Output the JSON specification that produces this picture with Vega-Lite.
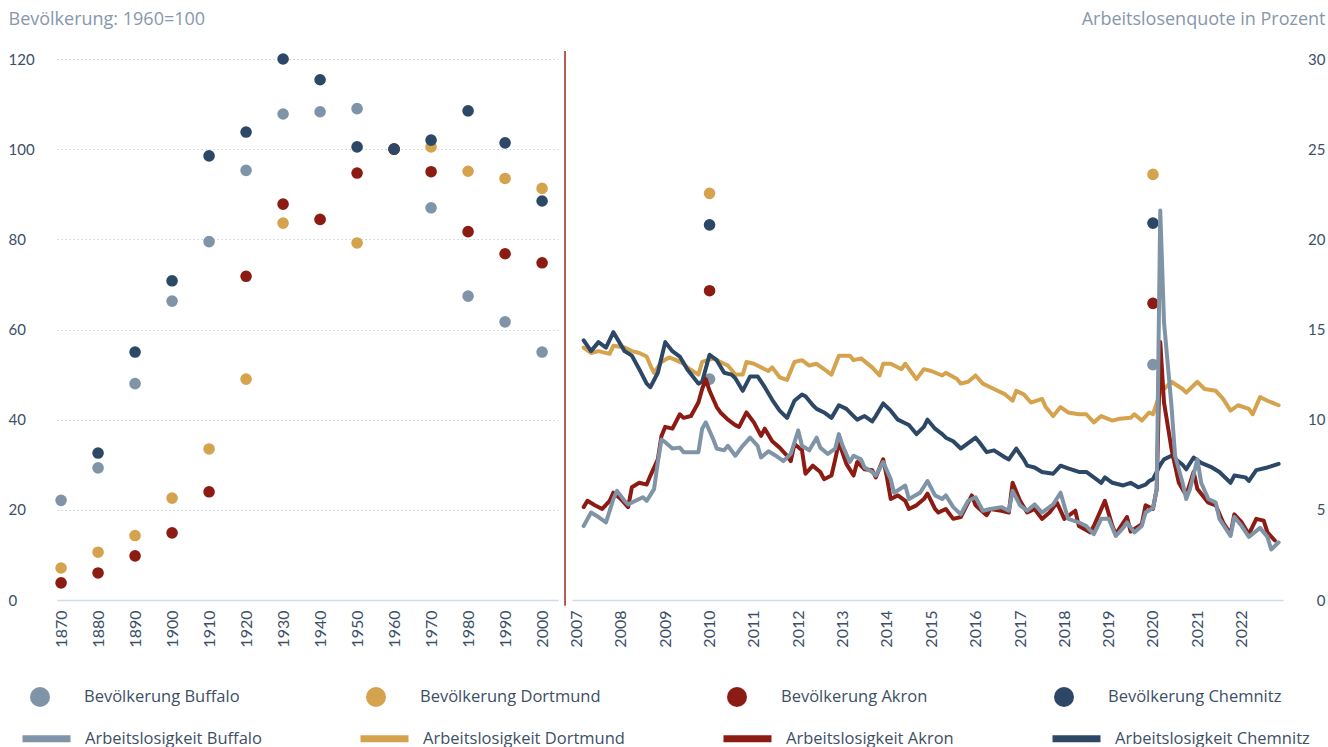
{
  "$schema": "https://vega.github.io/schema/vega-lite/v6.json",
  "background": "white",
  "padding": {"left": 8, "top": 10, "right": 3, "bottom": 0},
  "config": {
    "view": {"stroke": null},
    "font": "Lato",
    "axis": {"ticks": false, "domain": false, "labelFont": "Lato", "labelColor": "#3d4f66", "gridColor": "#c6d1df", "gridDash": [1.5, 2.5], "gridWidth": 1.2, "titleFont": "Open Sans", "titleFontWeight": "normal", "titleColor": "#8797ab", "titleFontSize": 18, "labelOverlap": false},
    "axisX": {"domain": true, "domainColor": "#d2dbe8", "domainWidth": 1.5, "grid": false, "labelAngle": -90, "labelFontSize": 16, "labelPadding": 10, "labelFlush": false, "labelOverlap": false},
    "axisY": {"labelFontSize": 15, "grid": true},
    "legend": {"labelFont": "Open Sans", "labelFontSize": 16.5, "labelColor": "#3d4f66", "labelLimit": 400}
  },
  "datasets": {
    "pop": [
      {"year": 1870, "series": "Bevölkerung Buffalo", "index": 22.1},
      {"year": 1880, "series": "Bevölkerung Buffalo", "index": 29.3},
      {"year": 1890, "series": "Bevölkerung Buffalo", "index": 48.0},
      {"year": 1900, "series": "Bevölkerung Buffalo", "index": 66.3},
      {"year": 1910, "series": "Bevölkerung Buffalo", "index": 79.5},
      {"year": 1920, "series": "Bevölkerung Buffalo", "index": 95.3},
      {"year": 1930, "series": "Bevölkerung Buffalo", "index": 107.8},
      {"year": 1940, "series": "Bevölkerung Buffalo", "index": 108.3},
      {"year": 1950, "series": "Bevölkerung Buffalo", "index": 109.0},
      {"year": 1960, "series": "Bevölkerung Buffalo", "index": 100},
      {"year": 1970, "series": "Bevölkerung Buffalo", "index": 87.0},
      {"year": 1980, "series": "Bevölkerung Buffalo", "index": 67.4},
      {"year": 1990, "series": "Bevölkerung Buffalo", "index": 61.7},
      {"year": 2000, "series": "Bevölkerung Buffalo", "index": 55.0},
      {"year": 1870, "series": "Bevölkerung Dortmund", "index": 7.1},
      {"year": 1880, "series": "Bevölkerung Dortmund", "index": 10.6},
      {"year": 1890, "series": "Bevölkerung Dortmund", "index": 14.3},
      {"year": 1900, "series": "Bevölkerung Dortmund", "index": 22.6},
      {"year": 1910, "series": "Bevölkerung Dortmund", "index": 33.5},
      {"year": 1920, "series": "Bevölkerung Dortmund", "index": 49.0},
      {"year": 1930, "series": "Bevölkerung Dortmund", "index": 83.6},
      {"year": 1940, "series": "Bevölkerung Dortmund", "index": 84.5},
      {"year": 1950, "series": "Bevölkerung Dortmund", "index": 79.2},
      {"year": 1960, "series": "Bevölkerung Dortmund", "index": 100},
      {"year": 1970, "series": "Bevölkerung Dortmund", "index": 100.5},
      {"year": 1980, "series": "Bevölkerung Dortmund", "index": 95.1},
      {"year": 1990, "series": "Bevölkerung Dortmund", "index": 93.5},
      {"year": 2000, "series": "Bevölkerung Dortmund", "index": 91.3},
      {"year": 1870, "series": "Bevölkerung Akron", "index": 3.8},
      {"year": 1880, "series": "Bevölkerung Akron", "index": 6.0},
      {"year": 1890, "series": "Bevölkerung Akron", "index": 9.8},
      {"year": 1900, "series": "Bevölkerung Akron", "index": 14.9},
      {"year": 1910, "series": "Bevölkerung Akron", "index": 24.0},
      {"year": 1920, "series": "Bevölkerung Akron", "index": 71.8},
      {"year": 1930, "series": "Bevölkerung Akron", "index": 87.8},
      {"year": 1940, "series": "Bevölkerung Akron", "index": 84.4},
      {"year": 1950, "series": "Bevölkerung Akron", "index": 94.7},
      {"year": 1960, "series": "Bevölkerung Akron", "index": 100},
      {"year": 1970, "series": "Bevölkerung Akron", "index": 95.0},
      {"year": 1980, "series": "Bevölkerung Akron", "index": 81.7},
      {"year": 1990, "series": "Bevölkerung Akron", "index": 76.8},
      {"year": 2000, "series": "Bevölkerung Akron", "index": 74.8},
      {"year": 1880, "series": "Bevölkerung Chemnitz", "index": 32.6},
      {"year": 1890, "series": "Bevölkerung Chemnitz", "index": 55.0},
      {"year": 1900, "series": "Bevölkerung Chemnitz", "index": 70.8},
      {"year": 1910, "series": "Bevölkerung Chemnitz", "index": 98.5},
      {"year": 1920, "series": "Bevölkerung Chemnitz", "index": 103.8},
      {"year": 1930, "series": "Bevölkerung Chemnitz", "index": 120.0},
      {"year": 1940, "series": "Bevölkerung Chemnitz", "index": 115.4},
      {"year": 1950, "series": "Bevölkerung Chemnitz", "index": 100.5},
      {"year": 1960, "series": "Bevölkerung Chemnitz", "index": 100},
      {"year": 1970, "series": "Bevölkerung Chemnitz", "index": 102.0},
      {"year": 1980, "series": "Bevölkerung Chemnitz", "index": 108.5},
      {"year": 1990, "series": "Bevölkerung Chemnitz", "index": 101.4},
      {"year": 2000, "series": "Bevölkerung Chemnitz", "index": 88.5}
    ],
    "popNew": [
      {"date": "2010-01", "series": "Bevölkerung Buffalo", "index": 49.0},
      {"date": "2020-01", "series": "Bevölkerung Buffalo", "index": 52.2},
      {"date": "2010-01", "series": "Bevölkerung Dortmund", "index": 90.2},
      {"date": "2020-01", "series": "Bevölkerung Dortmund", "index": 94.4},
      {"date": "2010-01", "series": "Bevölkerung Akron", "index": 68.6},
      {"date": "2020-01", "series": "Bevölkerung Akron", "index": 65.8},
      {"date": "2010-01", "series": "Bevölkerung Chemnitz", "index": 83.2},
      {"date": "2020-01", "series": "Bevölkerung Chemnitz", "index": 83.6}
    ],
    "ueDortmund": [
      {"date": "2007-03", "rate": 14.0}, {"date": "2007-05", "rate": 13.7}, {"date": "2007-07", "rate": 13.8}, {"date": "2007-10", "rate": 13.65}, {"date": "2007-11", "rate": 14.1},
      {"date": "2008-02", "rate": 14.0}, {"date": "2008-04", "rate": 13.8}, {"date": "2008-06", "rate": 13.7}, {"date": "2008-08", "rate": 13.5}, {"date": "2008-09", "rate": 13.0}, {"date": "2008-10", "rate": 12.6}, {"date": "2008-12", "rate": 13.2},
      {"date": "2009-02", "rate": 13.45}, {"date": "2009-04", "rate": 13.3}, {"date": "2009-06", "rate": 13.1}, {"date": "2009-07", "rate": 12.9}, {"date": "2009-10", "rate": 12.5}, {"date": "2009-11", "rate": 13.2},
      {"date": "2010-02", "rate": 13.4}, {"date": "2010-04", "rate": 13.2}, {"date": "2010-06", "rate": 13.0}, {"date": "2010-08", "rate": 12.5}, {"date": "2010-10", "rate": 12.5}, {"date": "2010-11", "rate": 13.2},
      {"date": "2011-01", "rate": 13.1}, {"date": "2011-04", "rate": 12.8}, {"date": "2011-05", "rate": 12.7}, {"date": "2011-06", "rate": 12.9}, {"date": "2011-08", "rate": 12.35}, {"date": "2011-10", "rate": 12.2}, {"date": "2011-12", "rate": 13.2},
      {"date": "2012-02", "rate": 13.3}, {"date": "2012-04", "rate": 13.0}, {"date": "2012-06", "rate": 13.1}, {"date": "2012-08", "rate": 12.8}, {"date": "2012-10", "rate": 12.5}, {"date": "2012-12", "rate": 13.55},
      {"date": "2013-03", "rate": 13.55}, {"date": "2013-04", "rate": 13.3}, {"date": "2013-06", "rate": 13.4}, {"date": "2013-09", "rate": 12.9}, {"date": "2013-11", "rate": 12.45}, {"date": "2013-12", "rate": 13.1},
      {"date": "2014-02", "rate": 13.1}, {"date": "2014-05", "rate": 12.8}, {"date": "2014-06", "rate": 13.1}, {"date": "2014-09", "rate": 12.25}, {"date": "2014-11", "rate": 12.8},
      {"date": "2015-01", "rate": 12.7}, {"date": "2015-04", "rate": 12.45}, {"date": "2015-05", "rate": 12.6}, {"date": "2015-08", "rate": 12.25}, {"date": "2015-09", "rate": 12.0}, {"date": "2015-11", "rate": 12.1},
      {"date": "2016-01", "rate": 12.45}, {"date": "2016-03", "rate": 12.0}, {"date": "2016-05", "rate": 11.8}, {"date": "2016-07", "rate": 11.6}, {"date": "2016-09", "rate": 11.4}, {"date": "2016-11", "rate": 11.05}, {"date": "2016-12", "rate": 11.6},
      {"date": "2017-02", "rate": 11.4}, {"date": "2017-04", "rate": 10.95}, {"date": "2017-07", "rate": 11.15}, {"date": "2017-08", "rate": 10.7}, {"date": "2017-10", "rate": 10.2}, {"date": "2017-12", "rate": 10.7},
      {"date": "2018-02", "rate": 10.4}, {"date": "2018-05", "rate": 10.3}, {"date": "2018-07", "rate": 10.3}, {"date": "2018-09", "rate": 9.85}, {"date": "2018-11", "rate": 10.2},
      {"date": "2019-02", "rate": 9.95}, {"date": "2019-04", "rate": 10.05}, {"date": "2019-07", "rate": 10.1}, {"date": "2019-08", "rate": 10.3}, {"date": "2019-10", "rate": 9.95}, {"date": "2019-12", "rate": 10.4},
      {"date": "2020-01", "rate": 10.3}, {"date": "2020-03", "rate": 11.5}, {"date": "2020-06", "rate": 12.1}, {"date": "2020-09", "rate": 11.7}, {"date": "2020-10", "rate": 11.5},
      {"date": "2021-01", "rate": 12.1}, {"date": "2021-03", "rate": 11.7}, {"date": "2021-06", "rate": 11.6}, {"date": "2021-08", "rate": 11.15}, {"date": "2021-10", "rate": 10.5}, {"date": "2021-12", "rate": 10.8},
      {"date": "2022-03", "rate": 10.6}, {"date": "2022-04", "rate": 10.3}, {"date": "2022-06", "rate": 11.25}, {"date": "2022-08", "rate": 11.05}, {"date": "2022-11", "rate": 10.8}
    ],
    "ueChemnitz": [
      {"date": "2007-03", "rate": 14.4}, {"date": "2007-05", "rate": 13.8}, {"date": "2007-07", "rate": 14.3}, {"date": "2007-09", "rate": 14.0}, {"date": "2007-11", "rate": 14.85},
      {"date": "2008-02", "rate": 13.8}, {"date": "2008-04", "rate": 13.55}, {"date": "2008-06", "rate": 12.8}, {"date": "2008-08", "rate": 12.0}, {"date": "2008-09", "rate": 11.8}, {"date": "2008-11", "rate": 12.6},
      {"date": "2009-01", "rate": 14.3}, {"date": "2009-03", "rate": 13.8}, {"date": "2009-05", "rate": 13.5}, {"date": "2009-07", "rate": 12.8}, {"date": "2009-10", "rate": 12.0}, {"date": "2009-11", "rate": 12.1},
      {"date": "2010-01", "rate": 13.6}, {"date": "2010-03", "rate": 13.3}, {"date": "2010-05", "rate": 12.6}, {"date": "2010-07", "rate": 12.5}, {"date": "2010-08", "rate": 12.3}, {"date": "2010-10", "rate": 11.6}, {"date": "2010-12", "rate": 12.4},
      {"date": "2011-02", "rate": 12.4}, {"date": "2011-04", "rate": 11.8}, {"date": "2011-06", "rate": 11.1}, {"date": "2011-08", "rate": 10.5}, {"date": "2011-10", "rate": 10.1}, {"date": "2011-12", "rate": 11.05},
      {"date": "2012-02", "rate": 11.4}, {"date": "2012-03", "rate": 11.3}, {"date": "2012-05", "rate": 10.8}, {"date": "2012-06", "rate": 10.6}, {"date": "2012-08", "rate": 10.4}, {"date": "2012-10", "rate": 10.1}, {"date": "2012-12", "rate": 10.8},
      {"date": "2013-02", "rate": 10.6}, {"date": "2013-04", "rate": 10.2}, {"date": "2013-05", "rate": 10.0}, {"date": "2013-07", "rate": 10.2}, {"date": "2013-09", "rate": 9.9}, {"date": "2013-10", "rate": 10.2}, {"date": "2013-12", "rate": 10.9},
      {"date": "2014-02", "rate": 10.5}, {"date": "2014-04", "rate": 10.0}, {"date": "2014-06", "rate": 9.8}, {"date": "2014-07", "rate": 9.7}, {"date": "2014-09", "rate": 9.2}, {"date": "2014-11", "rate": 9.6}, {"date": "2014-12", "rate": 10.0},
      {"date": "2015-02", "rate": 9.5}, {"date": "2015-04", "rate": 9.2}, {"date": "2015-05", "rate": 9.0}, {"date": "2015-07", "rate": 8.8}, {"date": "2015-09", "rate": 8.4},
      {"date": "2016-01", "rate": 9.0}, {"date": "2016-02", "rate": 8.75}, {"date": "2016-04", "rate": 8.2}, {"date": "2016-06", "rate": 8.3}, {"date": "2016-09", "rate": 7.9}, {"date": "2016-10", "rate": 7.8}, {"date": "2016-12", "rate": 8.4},
      {"date": "2017-02", "rate": 7.8}, {"date": "2017-03", "rate": 7.45}, {"date": "2017-05", "rate": 7.35}, {"date": "2017-07", "rate": 7.1}, {"date": "2017-10", "rate": 7.0}, {"date": "2017-12", "rate": 7.45},
      {"date": "2018-02", "rate": 7.3}, {"date": "2018-05", "rate": 7.1}, {"date": "2018-07", "rate": 7.1}, {"date": "2018-09", "rate": 6.8}, {"date": "2018-11", "rate": 6.5}, {"date": "2018-12", "rate": 6.8},
      {"date": "2019-02", "rate": 6.5}, {"date": "2019-05", "rate": 6.35}, {"date": "2019-07", "rate": 6.5}, {"date": "2019-09", "rate": 6.25}, {"date": "2019-11", "rate": 6.4}, {"date": "2019-12", "rate": 6.6},
      {"date": "2020-01", "rate": 6.7}, {"date": "2020-03", "rate": 7.5}, {"date": "2020-04", "rate": 7.8}, {"date": "2020-06", "rate": 8.0}, {"date": "2020-09", "rate": 7.5}, {"date": "2020-10", "rate": 7.25}, {"date": "2020-12", "rate": 7.9},
      {"date": "2021-02", "rate": 7.6}, {"date": "2021-05", "rate": 7.35}, {"date": "2021-07", "rate": 7.1}, {"date": "2021-10", "rate": 6.5}, {"date": "2021-11", "rate": 6.9},
      {"date": "2022-02", "rate": 6.8}, {"date": "2022-03", "rate": 6.6}, {"date": "2022-05", "rate": 7.2}, {"date": "2022-08", "rate": 7.35}, {"date": "2022-11", "rate": 7.55}
    ],
    "ueAkron": [
      {"date": "2007-03", "rate": 5.15}, {"date": "2007-04", "rate": 5.5}, {"date": "2007-06", "rate": 5.25}, {"date": "2007-08", "rate": 5.05}, {"date": "2007-10", "rate": 5.5}, {"date": "2007-11", "rate": 5.95},
      {"date": "2008-01", "rate": 5.6}, {"date": "2008-03", "rate": 5.15}, {"date": "2008-04", "rate": 6.25}, {"date": "2008-06", "rate": 6.5}, {"date": "2008-08", "rate": 6.4}, {"date": "2008-09", "rate": 6.9}, {"date": "2008-11", "rate": 7.8}, {"date": "2008-12", "rate": 9.1},
      {"date": "2009-01", "rate": 9.6}, {"date": "2009-03", "rate": 9.5}, {"date": "2009-05", "rate": 10.3}, {"date": "2009-06", "rate": 10.1}, {"date": "2009-08", "rate": 10.2}, {"date": "2009-10", "rate": 10.95}, {"date": "2009-11", "rate": 11.7}, {"date": "2009-12", "rate": 12.25},
      {"date": "2010-01", "rate": 11.6}, {"date": "2010-03", "rate": 10.7}, {"date": "2010-04", "rate": 10.4}, {"date": "2010-06", "rate": 10.0}, {"date": "2010-08", "rate": 9.7}, {"date": "2010-09", "rate": 9.6}, {"date": "2010-11", "rate": 10.4},
      {"date": "2011-01", "rate": 9.85}, {"date": "2011-03", "rate": 9.1}, {"date": "2011-04", "rate": 9.5}, {"date": "2011-06", "rate": 8.8}, {"date": "2011-08", "rate": 8.45}, {"date": "2011-10", "rate": 8.0}, {"date": "2011-11", "rate": 7.7}, {"date": "2011-12", "rate": 8.65},
      {"date": "2012-02", "rate": 8.3}, {"date": "2012-03", "rate": 7.0}, {"date": "2012-05", "rate": 7.45}, {"date": "2012-07", "rate": 7.1}, {"date": "2012-08", "rate": 6.7}, {"date": "2012-10", "rate": 6.9}, {"date": "2012-11", "rate": 7.8}, {"date": "2012-12", "rate": 8.75},
      {"date": "2013-02", "rate": 7.55}, {"date": "2013-04", "rate": 6.9}, {"date": "2013-05", "rate": 7.65}, {"date": "2013-07", "rate": 7.25}, {"date": "2013-09", "rate": 7.2}, {"date": "2013-10", "rate": 6.8}, {"date": "2013-12", "rate": 7.8},
      {"date": "2014-01", "rate": 6.8}, {"date": "2014-02", "rate": 5.6}, {"date": "2014-04", "rate": 5.8}, {"date": "2014-06", "rate": 5.5}, {"date": "2014-07", "rate": 5.05}, {"date": "2014-09", "rate": 5.25}, {"date": "2014-11", "rate": 5.6}, {"date": "2014-12", "rate": 5.9},
      {"date": "2015-02", "rate": 5.05}, {"date": "2015-03", "rate": 4.85}, {"date": "2015-05", "rate": 5.05}, {"date": "2015-07", "rate": 4.5}, {"date": "2015-09", "rate": 4.6}, {"date": "2015-12", "rate": 5.8},
      {"date": "2016-01", "rate": 5.25}, {"date": "2016-04", "rate": 4.7}, {"date": "2016-05", "rate": 5.05}, {"date": "2016-08", "rate": 4.95}, {"date": "2016-10", "rate": 4.85}, {"date": "2016-11", "rate": 6.5},
      {"date": "2017-01", "rate": 5.5}, {"date": "2017-03", "rate": 4.85}, {"date": "2017-05", "rate": 5.05}, {"date": "2017-07", "rate": 4.5}, {"date": "2017-09", "rate": 4.85}, {"date": "2017-11", "rate": 5.4},
      {"date": "2018-01", "rate": 4.5}, {"date": "2018-04", "rate": 4.95}, {"date": "2018-05", "rate": 4.1}, {"date": "2018-08", "rate": 3.75}, {"date": "2018-09", "rate": 4.1}, {"date": "2018-12", "rate": 5.5},
      {"date": "2019-02", "rate": 4.1}, {"date": "2019-03", "rate": 3.65}, {"date": "2019-06", "rate": 4.6}, {"date": "2019-07", "rate": 3.8}, {"date": "2019-10", "rate": 4.2}, {"date": "2019-11", "rate": 5.25},
      {"date": "2020-01", "rate": 5.05}, {"date": "2020-02", "rate": 6.15}, {"date": "2020-03", "rate": 14.3}, {"date": "2020-04", "rate": 10.95}, {"date": "2020-06", "rate": 8.4}, {"date": "2020-08", "rate": 6.5}, {"date": "2020-10", "rate": 5.8}, {"date": "2020-12", "rate": 7.1},
      {"date": "2021-01", "rate": 6.15}, {"date": "2021-04", "rate": 5.4}, {"date": "2021-06", "rate": 5.25}, {"date": "2021-08", "rate": 4.3}, {"date": "2021-10", "rate": 3.65}, {"date": "2021-11", "rate": 4.75},
      {"date": "2022-01", "rate": 4.3}, {"date": "2022-03", "rate": 3.65}, {"date": "2022-05", "rate": 4.5}, {"date": "2022-07", "rate": 4.4}, {"date": "2022-08", "rate": 3.75}, {"date": "2022-10", "rate": 3.3}
    ],
    "ueBuffalo": [
      {"date": "2007-03", "rate": 4.1}, {"date": "2007-05", "rate": 4.85}, {"date": "2007-07", "rate": 4.6}, {"date": "2007-09", "rate": 4.3}, {"date": "2007-11", "rate": 5.6}, {"date": "2007-12", "rate": 6.05},
      {"date": "2008-02", "rate": 5.5}, {"date": "2008-03", "rate": 5.3}, {"date": "2008-05", "rate": 5.5}, {"date": "2008-07", "rate": 5.7}, {"date": "2008-08", "rate": 5.5}, {"date": "2008-10", "rate": 6.15}, {"date": "2008-11", "rate": 7.65}, {"date": "2008-12", "rate": 8.9},
      {"date": "2009-01", "rate": 8.75}, {"date": "2009-03", "rate": 8.4}, {"date": "2009-05", "rate": 8.45}, {"date": "2009-06", "rate": 8.2}, {"date": "2009-08", "rate": 8.2}, {"date": "2009-10", "rate": 8.2}, {"date": "2009-11", "rate": 9.5}, {"date": "2009-12", "rate": 9.85},
      {"date": "2010-02", "rate": 8.9}, {"date": "2010-03", "rate": 8.4}, {"date": "2010-05", "rate": 8.3}, {"date": "2010-06", "rate": 8.55}, {"date": "2010-08", "rate": 8.0}, {"date": "2010-10", "rate": 8.55}, {"date": "2010-12", "rate": 9.0},
      {"date": "2011-02", "rate": 8.55}, {"date": "2011-03", "rate": 7.9}, {"date": "2011-05", "rate": 8.25}, {"date": "2011-07", "rate": 8.0}, {"date": "2011-09", "rate": 7.7}, {"date": "2011-11", "rate": 8.1},
      {"date": "2012-01", "rate": 9.4}, {"date": "2012-02", "rate": 8.55}, {"date": "2012-04", "rate": 8.3}, {"date": "2012-06", "rate": 9.0}, {"date": "2012-07", "rate": 8.45}, {"date": "2012-09", "rate": 8.1}, {"date": "2012-11", "rate": 8.4}, {"date": "2012-12", "rate": 9.2},
      {"date": "2013-01", "rate": 8.55}, {"date": "2013-03", "rate": 7.65}, {"date": "2013-04", "rate": 8.0}, {"date": "2013-06", "rate": 7.8}, {"date": "2013-07", "rate": 7.35}, {"date": "2013-09", "rate": 7.1}, {"date": "2013-10", "rate": 6.9}, {"date": "2013-12", "rate": 7.65},
      {"date": "2014-02", "rate": 6.7}, {"date": "2014-03", "rate": 5.95}, {"date": "2014-06", "rate": 6.35}, {"date": "2014-07", "rate": 5.6}, {"date": "2014-10", "rate": 5.95}, {"date": "2014-12", "rate": 6.6},
      {"date": "2015-02", "rate": 5.8}, {"date": "2015-04", "rate": 5.6}, {"date": "2015-05", "rate": 5.8}, {"date": "2015-07", "rate": 5.15}, {"date": "2015-09", "rate": 4.75}, {"date": "2015-11", "rate": 5.5},
      {"date": "2016-01", "rate": 5.7}, {"date": "2016-03", "rate": 4.95}, {"date": "2016-05", "rate": 5.05}, {"date": "2016-08", "rate": 5.15}, {"date": "2016-10", "rate": 4.95}, {"date": "2016-11", "rate": 6.05},
      {"date": "2017-01", "rate": 5.25}, {"date": "2017-03", "rate": 4.95}, {"date": "2017-05", "rate": 5.3}, {"date": "2017-07", "rate": 4.85}, {"date": "2017-10", "rate": 5.3}, {"date": "2017-12", "rate": 5.95},
      {"date": "2018-02", "rate": 4.5}, {"date": "2018-05", "rate": 4.3}, {"date": "2018-07", "rate": 4.1}, {"date": "2018-09", "rate": 3.65}, {"date": "2018-11", "rate": 4.5},
      {"date": "2019-01", "rate": 4.5}, {"date": "2019-03", "rate": 3.55}, {"date": "2019-05", "rate": 4.0}, {"date": "2019-06", "rate": 4.3}, {"date": "2019-08", "rate": 3.75}, {"date": "2019-10", "rate": 4.1}, {"date": "2019-11", "rate": 4.85},
      {"date": "2020-01", "rate": 5.1}, {"date": "2020-02", "rate": 6.15}, {"date": "2020-03", "rate": 21.6}, {"date": "2020-04", "rate": 15.4}, {"date": "2020-06", "rate": 10.8}, {"date": "2020-07", "rate": 8.0}, {"date": "2020-09", "rate": 6.5}, {"date": "2020-10", "rate": 5.6}, {"date": "2020-11", "rate": 6.15},
      {"date": "2021-01", "rate": 7.8}, {"date": "2021-02", "rate": 6.5}, {"date": "2021-04", "rate": 5.6}, {"date": "2021-06", "rate": 5.4}, {"date": "2021-07", "rate": 4.5}, {"date": "2021-10", "rate": 3.55}, {"date": "2021-11", "rate": 4.6},
      {"date": "2022-01", "rate": 4.1}, {"date": "2022-03", "rate": 3.5}, {"date": "2022-06", "rate": 4.0}, {"date": "2022-08", "rate": 3.5}, {"date": "2022-09", "rate": 2.8}, {"date": "2022-11", "rate": 3.2}
    ]
  },
  "bounds": "flush",
  "spacing": 14,
  "hconcat": [
    {
      "width": 501,
      "height": 541,
      "layer": [
        {
          "data": {"name": "pop"},
          "mark": {"type": "point", "filled": true, "size": 135, "opacity": 1},
          "encoding": {
            "x": {"field": "year", "type": "quantitative", "scale": {"domain": [1868.9, 2004.3], "nice": false, "zero": false}, "axis": {"values": [1870, 1880, 1890, 1900, 1910, 1920, 1930, 1940, 1950, 1960, 1970, 1980, 1990, 2000], "format": "d", "title": null, "labelOverlap": false}},
            "y": {"field": "index", "type": "quantitative", "scale": {"domain": [0, 120], "nice": false}, "axis": {"values": [0, 20, 40, 60, 80, 100, 120], "labelAlign": "left", "labelPadding": 49, "title": "Bevölkerung: 1960=100", "titleAngle": 0, "titleAlign": "left", "titleBaseline": "middle", "titleX": -49, "titleY": -40}},
            "color": {
              "field": "series", "type": "nominal", "title": null,
              "scale": {"domain": ["Bevölkerung Buffalo", "Bevölkerung Dortmund", "Bevölkerung Akron", "Bevölkerung Chemnitz"], "range": ["#8094a8", "#d5a24d", "#8c1b13", "#2c4866"]},
              "legend": {"title": null, "orient": "none", "legendX": -27, "legendY": 628, "direction": "horizontal", "columns": 4, "columnPadding": 126, "symbolSize": 400, "symbolStrokeWidth": 0, "symbolType": "circle", "labelOffset": 34, "symbolOpacity": 1}
            }
          }
        },
        {
          "data": {"values": [{}]},
          "mark": {"type": "rule", "color": "#a3261f", "strokeWidth": 1.5, "clip": false},
          "encoding": {
            "x": {"datum": 2006.2, "type": "quantitative", "scale": {"domain": [1868.9, 2004.3], "nice": false, "zero": false}, "axis": {"values": [1870, 1880, 1890, 1900, 1910, 1920, 1930, 1940, 1950, 1960, 1970, 1980, 1990, 2000], "format": "d", "title": null, "labelOverlap": false}},
            "y": {"datum": 121.8, "type": "quantitative", "scale": {"domain": [0, 120], "nice": false}, "axis": {"values": [0, 20, 40, 60, 80, 100, 120], "labelAlign": "left", "labelPadding": 49, "title": "Bevölkerung: 1960=100", "titleAngle": 0, "titleAlign": "left", "titleBaseline": "middle", "titleX": -49, "titleY": -40}},
            "y2": {"datum": -1.3}
          }
        }
      ]
    },
    {
      "width": 711,
      "height": 541,
      "encoding": {
        "x": {"field": "date", "type": "temporal", "scale": {"domain": [{"year": 2006, "month": 11, "date": 25}, {"year": 2022, "month": 12, "date": 7}]}, "axis": {"values": [{"year": 2007}, {"year": 2008}, {"year": 2009}, {"year": 2010}, {"year": 2011}, {"year": 2012}, {"year": 2013}, {"year": 2014}, {"year": 2015}, {"year": 2016}, {"year": 2017}, {"year": 2018}, {"year": 2019}, {"year": 2020}, {"year": 2021}, {"year": 2022}], "format": "%Y", "title": null, "labelOverlap": false}}
      },
      "layer": [
        {
          "data": {"name": "popNew"},
          "mark": {"type": "point", "filled": true, "size": 135, "opacity": 1},
          "encoding": {
            "y": {"field": "index", "type": "quantitative", "scale": {"domain": [0, 120], "nice": false}, "axis": null},
            "color": {"field": "series", "type": "nominal", "title": null, "scale": {"domain": ["Bevölkerung Buffalo", "Bevölkerung Dortmund", "Bevölkerung Akron", "Bevölkerung Chemnitz"], "range": ["#8094a8", "#d5a24d", "#8c1b13", "#2c4866"]}}
          }
        },
        {
          "data": {"name": "ueDortmund"},
          "mark": {"type": "line", "strokeWidth": 4, "strokeJoin": "round", "strokeCap": "round"},
          "encoding": {
            "y": {"field": "rate", "type": "quantitative", "scale": {"domain": [0, 30], "nice": false}, "axis": {"orient": "right", "values": [0, 5, 10, 15, 20, 25, 30], "labelAlign": "right", "labelPadding": 42, "title": "Arbeitslosenquote in Prozent", "titleAngle": 0, "titleAlign": "right", "titleBaseline": "middle", "titleX": 42, "titleY": -40}},
            "stroke": {"datum": "Arbeitslosigkeit Dortmund", "type": "nominal", "title": null,
              "scale": {"domain": ["Arbeitslosigkeit Buffalo", "Arbeitslosigkeit Dortmund", "Arbeitslosigkeit Akron", "Arbeitslosigkeit Chemnitz"], "range": ["#8094a8", "#d5a24d", "#8c1b13", "#2c4866"]},
              "legend": {"title": null, "orient": "none", "legendX": -38, "legendY": 652, "direction": "horizontal", "columns": 4, "columnPadding": 84, "symbolSize": 2304, "symbolStrokeWidth": 7, "symbolType": "stroke", "labelOffset": 11, "symbolOpacity": 1}}
          }
        },
        {
          "data": {"name": "ueChemnitz"},
          "mark": {"type": "line", "strokeWidth": 4, "strokeJoin": "round", "strokeCap": "round"},
          "encoding": {
            "y": {"field": "rate", "type": "quantitative", "scale": {"domain": [0, 30], "nice": false}, "axis": null},
            "stroke": {"datum": "Arbeitslosigkeit Chemnitz", "type": "nominal", "title": null, "scale": {"domain": ["Arbeitslosigkeit Buffalo", "Arbeitslosigkeit Dortmund", "Arbeitslosigkeit Akron", "Arbeitslosigkeit Chemnitz"], "range": ["#8094a8", "#d5a24d", "#8c1b13", "#2c4866"]}}
          }
        },
        {
          "data": {"name": "ueAkron"},
          "mark": {"type": "line", "strokeWidth": 4, "strokeJoin": "round", "strokeCap": "round"},
          "encoding": {
            "y": {"field": "rate", "type": "quantitative", "scale": {"domain": [0, 30], "nice": false}, "axis": null},
            "stroke": {"datum": "Arbeitslosigkeit Akron", "type": "nominal", "title": null, "scale": {"domain": ["Arbeitslosigkeit Buffalo", "Arbeitslosigkeit Dortmund", "Arbeitslosigkeit Akron", "Arbeitslosigkeit Chemnitz"], "range": ["#8094a8", "#d5a24d", "#8c1b13", "#2c4866"]}}
          }
        },
        {
          "data": {"name": "ueBuffalo"},
          "mark": {"type": "line", "strokeWidth": 4, "strokeJoin": "round", "strokeCap": "round"},
          "encoding": {
            "y": {"field": "rate", "type": "quantitative", "scale": {"domain": [0, 30], "nice": false}, "axis": null},
            "stroke": {"datum": "Arbeitslosigkeit Buffalo", "type": "nominal", "title": null, "scale": {"domain": ["Arbeitslosigkeit Buffalo", "Arbeitslosigkeit Dortmund", "Arbeitslosigkeit Akron", "Arbeitslosigkeit Chemnitz"], "range": ["#8094a8", "#d5a24d", "#8c1b13", "#2c4866"]}}
          }
        }
      ],
      "resolve": {"scale": {"y": "independent"}}
    }
  ]
}
